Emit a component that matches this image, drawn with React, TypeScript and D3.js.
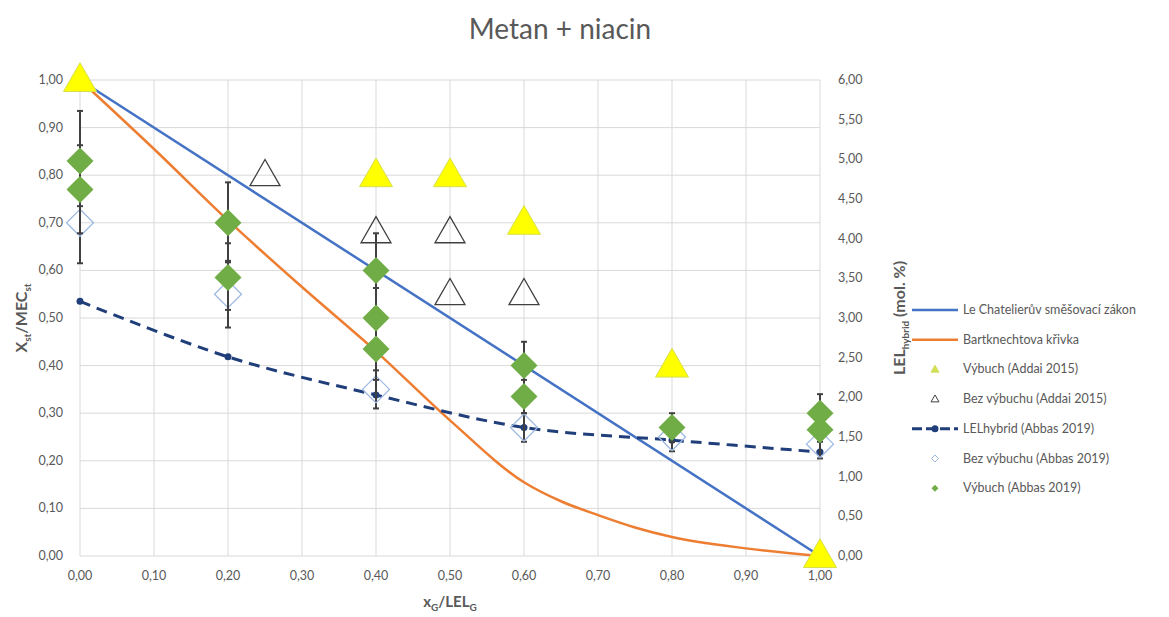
import React from 'react';
import * as d3 from 'd3';

const W = 1169;
const H = 617;

const title = 'Metan + niacin';
const xTicks = [0, 0.1, 0.2, 0.3, 0.4, 0.5, 0.6, 0.7, 0.8, 0.9, 1.0];
const leftTicks = [0, 0.1, 0.2, 0.3, 0.4, 0.5, 0.6, 0.7, 0.8, 0.9, 1.0];
const rightTicks = [0, 0.5, 1, 1.5, 2, 2.5, 3, 3.5, 4, 4.5, 5, 5.5, 6];

// Le Chatelier mixing rule
const chatelierX = [0, 1];
const chatelierY = [1, 0];
// Bartknecht curve
const bartX = [0, 0.1, 0.2, 0.3, 0.4, 0.5, 0.6, 0.65, 0.7, 0.75, 0.8, 0.9, 1.0];
const bartY = [1.0, 0.855, 0.705, 0.565, 0.43, 0.285, 0.155, 0.115, 0.086, 0.06, 0.04, 0.016, 0];
// Výbuch (Addai 2015)
const addaiExplX = [0, 0.4, 0.5, 0.6, 0.8, 1.0];
const addaiExplY = [1.0, 0.8, 0.8, 0.7, 0.4, 0.0];
// Bez výbuchu (Addai 2015)
const addaiNoX = [0.25, 0.4, 0.5, 0.5, 0.6];
const addaiNoY = [0.8, 0.68, 0.68, 0.55, 0.55];
// LELhybrid (Abbas 2019) - right axis, mol. %
const lelX = [0, 0.2, 0.4, 0.6, 0.8, 1.0];
const lelY = [3.21, 2.51, 2.03, 1.62, 1.46, 1.31];
// Bez výbuchu (Abbas 2019)
const abbasNoX = [0, 0.2, 0.4, 0.6, 0.8, 1.0];
const abbasNoY = [0.70, 0.55, 0.35, 0.27, 0.25, 0.235];
const abbasNoLow = [0.615, 0.48, 0.31, 0.24, 0.22, 0.205];
const abbasNoHigh = [0.785, 0.62, 0.39, 0.30, 0.27, 0.25];
// Výbuch (Abbas 2019)
const abbasExplX = [0, 0, 0.2, 0.2, 0.4, 0.4, 0.4, 0.6, 0.6, 0.8, 1.0, 1.0];
const abbasExplY = [0.83, 0.77, 0.70, 0.585, 0.60, 0.50, 0.435, 0.40, 0.335, 0.27, 0.30, 0.265];
const abbasExplLow = [0.735, 0.678, 0.617, 0.517, 0.52, 0.437, 0.37, 0.35, 0.30, 0.24, 0.26, 0.24];
const abbasExplHigh = [0.935, 0.863, 0.785, 0.657, 0.678, 0.563, 0.50, 0.45, 0.37, 0.30, 0.34, 0.29];

const legendLabels = [
  'Le Chatelierův směšovací zákon',
  'Bartknechtova křivka',
  'Výbuch (Addai 2015)',
  'Bez výbuchu (Addai 2015)',
  'LELhybrid (Abbas 2019)',
  'Bez výbuchu (Abbas 2019)',
  'Výbuch (Abbas 2019)',
];

const FONT = 'Lato, "Open Sans", sans-serif';
const GREY = '#595959';
const BLUE = '#4472C4';
const ORANGE = '#ED7D31';
const NAVY = '#203F7A';
const YELLOW = '#FFFF00';
const GREEN = '#70AD47';
const LBLUE = '#9DB9E3';
const ERR = '#404040';

const fmt = (v: number) => v.toFixed(2).replace('.', ',');

const tri = (cx: number, cy: number, s: number) => {
  const h = s * 0.87;
  return `M${cx},${cy - h * 0.6}L${cx + s / 2},${cy + h * 0.4}L${cx - s / 2},${cy + h * 0.4}Z`;
};
const dia = (cx: number, cy: number, s: number) =>
  `M${cx},${cy - s / 2}L${cx + s / 2},${cy}L${cx},${cy + s / 2}L${cx - s / 2},${cy}Z`;

export default function App() {
  const left = 80, right = 820, top = 80, bottom = 556;
  const x = d3.scaleLinear().domain([0, 1]).range([left, right]);
  const yL = d3.scaleLinear().domain([0, 1]).range([bottom, top]);
  const yR = d3.scaleLinear().domain([0, 6]).range([bottom, top]);

  const lineL = d3.line<[number, number]>().x(d => x(d[0])).y(d => yL(d[1]));
  const bartLine = d3.line<[number, number]>().x(d => x(d[0])).y(d => yL(d[1])).curve(d3.curveMonotoneX);
  const lelLine = d3.line<[number, number]>().x(d => x(d[0])).y(d => yR(d[1])).curve(d3.curveCatmullRom.alpha(0.5));

  const zip = (a: number[], b: number[]) => a.map((v, i) => [v, b[i]] as [number, number]);

  const errBars = (xs: number[], lo: number[], hi: number[], key: string) =>
    xs.map((xv, i) => {
      const cx = x(xv);
      return (
        <g key={key + i} stroke={ERR} strokeWidth={2}>
          <line x1={cx} x2={cx} y1={yL(lo[i])} y2={yL(hi[i])} />
          <line x1={cx - 3} x2={cx + 3} y1={yL(lo[i])} y2={yL(lo[i])} />
          <line x1={cx - 3} x2={cx + 3} y1={yL(hi[i])} y2={yL(hi[i])} />
        </g>
      );
    });

  const legTop = 310;
  const legStep = 29.7;
  const lx0 = 912, lx1 = 958, ltx = 963;

  return (
    <svg width={W} height={H} style={{ position: 'absolute', left: 0, top: 0, background: '#fff' }} fontFamily={FONT}>
      <rect x={0} y={0} width={W} height={H} fill="#fff" />
      <text x={560} y={39} textAnchor="middle" fontSize={28} fill={GREY}>{title}</text>

      {/* grid */}
      {leftTicks.map(t => (
        <line key={'h' + t} x1={left} x2={right} y1={yL(t)} y2={yL(t)} stroke="#D9D9D9" strokeWidth={1} />
      ))}
      {xTicks.map(t => (
        <line key={'v' + t} x1={x(t)} x2={x(t)} y1={top} y2={bottom} stroke="#D9D9D9" strokeWidth={1} />
      ))}

      {/* tick labels */}
      {leftTicks.map(t => (
        <text key={'lt' + t} x={63} y={yL(t) + 4} textAnchor="end" fontSize={12.5} fill={GREY}>{fmt(t)}</text>
      ))}
      {rightTicks.map(t => (
        <text key={'rt' + t} x={838} y={yR(t) + 4} textAnchor="start" fontSize={12.5} fill={GREY}>{fmt(t)}</text>
      ))}
      {xTicks.map(t => (
        <text key={'xt' + t} x={x(t)} y={580} textAnchor="middle" fontSize={12.5} fill={GREY}>{fmt(t)}</text>
      ))}

      {/* axis titles */}
      <text x={450} y={607} textAnchor="middle" fontSize={15} fontWeight="bold" fill={GREY}>
        x<tspan fontSize={10} dy={4}>G</tspan><tspan dy={-4}>/LEL</tspan><tspan fontSize={10} dy={4}>G</tspan>
      </text>
      <text transform="translate(27,318) rotate(-90)" textAnchor="middle" fontSize={16} fontWeight="bold" fill={GREY}>
        X<tspan fontSize={10} dy={4}>st</tspan><tspan dy={-4}>/MEC</tspan><tspan fontSize={10} dy={4}>st</tspan>
      </text>
      <text transform="translate(905,318) rotate(-90)" textAnchor="middle" fontSize={16} fontWeight="bold" fill={GREY}>
        LEL<tspan fontSize={10} dy={4}>hybrid</tspan><tspan dy={-4}> (mol. %)</tspan>
      </text>

      {/* lines */}
      <path d={lineL(zip(chatelierX, chatelierY)) || ''} fill="none" stroke={BLUE} strokeWidth={2.5} />
      <path d={bartLine(zip(bartX, bartY)) || ''} fill="none" stroke={ORANGE} strokeWidth={2.5} />

      {/* Addai explosion */}
      {addaiExplX.map((xv, i) => (
        <path key={'ae' + i} d={tri(x(xv), yL(addaiExplY[i]), 33)} fill={YELLOW} stroke="#D6E04A" strokeWidth={1} />
      ))}
      {/* Addai no explosion */}
      {addaiNoX.map((xv, i) => (
        <path key={'an' + i} d={tri(x(xv), yL(addaiNoY[i]), 30)} fill="none" stroke="#404040" strokeWidth={1.3} />
      ))}

      {/* LELhybrid */}
      <path d={lelLine(zip(lelX, lelY)) || ''} fill="none" stroke={NAVY} strokeWidth={3} strokeDasharray="11,7" />
      {lelX.map((xv, i) => (
        <circle key={'lc' + i} cx={x(xv)} cy={yR(lelY[i])} r={3.5} fill={NAVY} />
      ))}

      {/* Abbas no explosion */}
      {errBars(abbasNoX, abbasNoLow, abbasNoHigh, 'en')}
      {abbasNoX.map((xv, i) => (
        <path key={'bn' + i} d={dia(x(xv), yL(abbasNoY[i]), 27)} fill="none" stroke={LBLUE} strokeWidth={1.3} />
      ))}

      {/* Abbas explosion */}
      {errBars(abbasExplX, abbasExplLow, abbasExplHigh, 'ee')}
      {abbasExplX.map((xv, i) => (
        <path key={'be' + i} d={dia(x(xv), yL(abbasExplY[i]), 27)} fill={GREEN} />
      ))}

      {/* legend */}
      {legendLabels.map((lab, i) => {
        const cy = legTop + i * legStep;
        const mx = (lx0 + lx1) / 2;
        let sym: React.ReactNode = null;
        if (i === 0) sym = <line x1={lx0} x2={lx1} y1={cy} y2={cy} stroke={BLUE} strokeWidth={2.5} />;
        else if (i === 1) sym = <line x1={lx0} x2={lx1} y1={cy} y2={cy} stroke={ORANGE} strokeWidth={2.5} />;
        else if (i === 2) sym = <path d={tri(mx, cy, 8)} fill="#D4E157" stroke="#C9D94A" strokeWidth={0.8} />;
        else if (i === 3) sym = <path d={tri(mx, cy, 8)} fill="none" stroke="#404040" strokeWidth={1} />;
        else if (i === 4)
          sym = (
            <g>
              <line x1={lx0} x2={lx1} y1={cy} y2={cy} stroke={NAVY} strokeWidth={3} strokeDasharray="10,4" />
              <circle cx={mx} cy={cy} r={3.5} fill={NAVY} />
            </g>
          );
        else if (i === 5) sym = <path d={dia(mx, cy, 7)} fill="none" stroke={LBLUE} strokeWidth={1} />;
        else sym = <path d={dia(mx, cy, 7)} fill={GREEN} />;
        return (
          <g key={'lg' + i}>
            {sym}
            <text x={ltx} y={cy + 4} fontSize={12.5} fill={GREY}>{lab}</text>
          </g>
        );
      })}
    </svg>
  );
}
